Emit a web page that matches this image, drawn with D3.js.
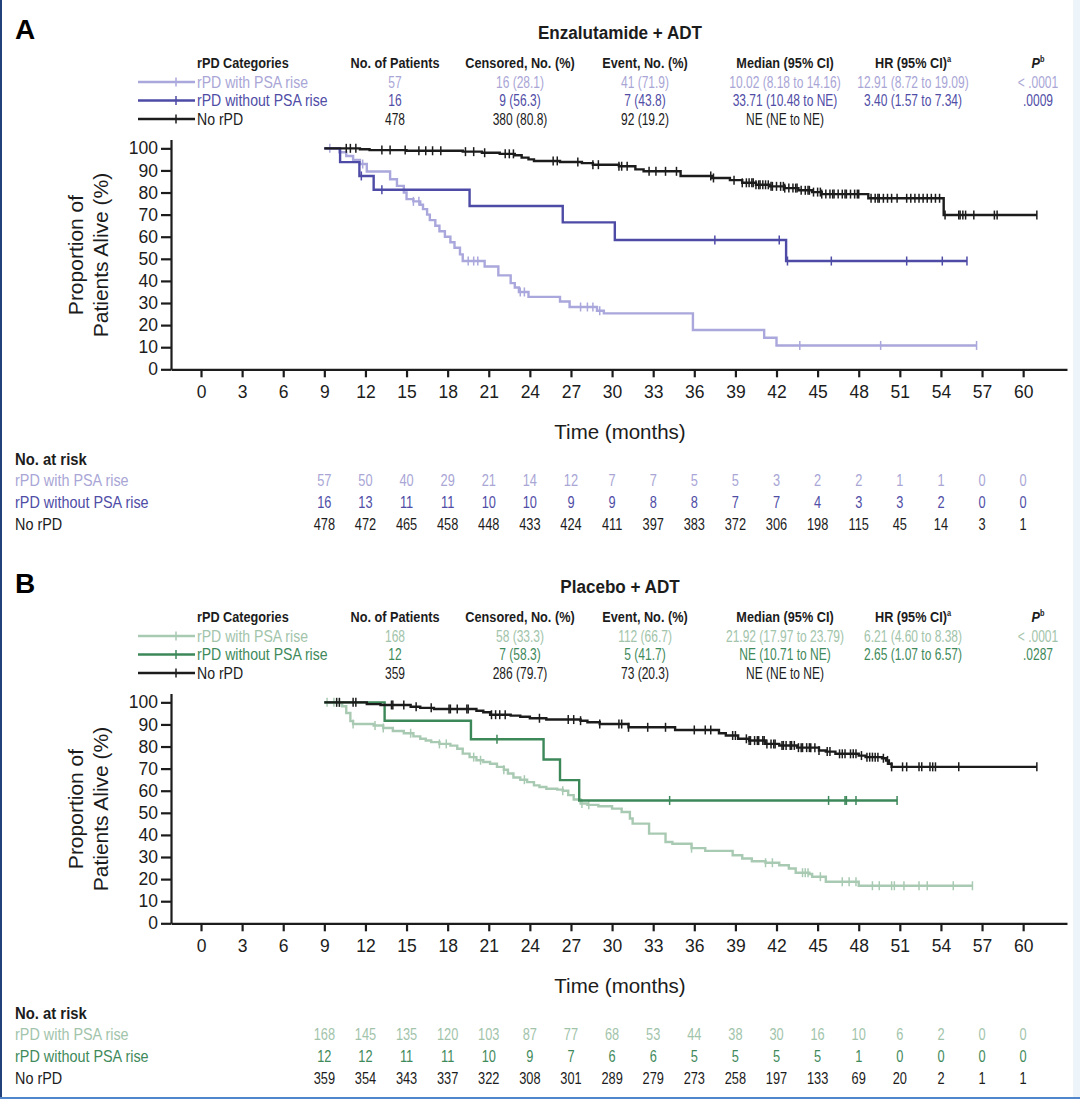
<!DOCTYPE html>
<html>
<head>
<meta charset="utf-8">
<script src="https://cdn.jsdelivr.net/npm/d3@7"></script>
<style>
body { margin: 0; background: #fff; }
svg { display: block; }
</style>
</head>
<body>
<svg id="fig" width="1080" height="1101"></svg>
<script>

// ---- data ----
const catNames = ['rPD with PSA rise', 'rPD without PSA rise', 'No rPD']
const xTicks = [0, 3, 6, 9, 12, 15, 18, 21, 24, 27, 30, 33, 36, 39, 42, 45, 48, 51, 54, 57, 60]
const yTicks = [0, 10, 20, 30, 40, 50, 60, 70, 80, 90, 100]
const riskMonths = [9, 12, 15, 18, 21, 24, 27, 30, 33, 36, 39, 42, 45, 48, 51, 54, 57, 60]
const startMonth = 9

// panel A: Enzalutamide + ADT
const aPatients = ['57', '16', '478']
const aCensored = ['16 (28.1)', '9 (56.3)', '380 (80.8)']
const aEvents = ['41 (71.9)', '7 (43.8)', '92 (19.2)']
const aMedians = ['10.02 (8.18 to 14.16)', '33.71 (10.48 to NE)', 'NE (NE to NE)']
const aHR = ['12.91 (8.72 to 19.09)', '3.40 (1.57 to 7.34)', '']
const aP = ['< .0001', '.0009', '']

const aPsaT = [10.1, 10.6, 11.1, 11.6, 12.1, 13.8, 14.3, 14.8, 15.0, 15.5, 16.0, 16.2, 16.5, 16.7, 17.1, 17.4, 17.8, 18.2, 18.5, 18.9, 19.1, 20.7, 21.7, 22.6, 22.9, 23.2, 23.9, 26.2, 26.9, 28.9, 29.4, 35.9, 41.1, 42.0]
const aPsaS = [98.2, 96.5, 94.7, 92.9, 89.5, 86.0, 83.0, 80.0, 77.0, 76.0, 74.5, 72.5, 70.0, 67.5, 65.0, 62.5, 60.0, 57.5, 55.0, 52.0, 49.0, 46.5, 42.5, 39.0, 37.0, 35.0, 32.8, 30.7, 28.2, 26.5, 25.3, 17.8, 14.3, 10.8]
const aPsaC = [9.4, 11.8, 15.5, 15.9, 19.5, 19.9, 20.2, 23.3, 23.6, 27.7, 28.2, 28.6, 29.1, 43.7, 49.6, 56.6]
const aPsaEnd = 56.6

const aNoT = [10.15, 11.56, 12.6, 19.6, 26.4, 30.2, 42.7]
const aNoS = [93.75, 87.5, 81.25, 73.9, 66.5, 58.5, 49.0]
const aNoC = [11.7, 13.2, 37.5, 42.2, 42.8, 46.0, 51.5, 54.1, 55.9]
const aNoEnd = 55.9

const aNoneT = [11.6, 12.3, 15.0, 19.1, 20.5, 21.8, 22.9, 23.4, 23.9, 24.3, 26.2, 27.8, 28.6, 30.5, 31.7, 32.3, 35.0, 37.3, 38.6, 39.5, 40.5, 41.5, 42.6, 43.6, 44.6, 45.3, 48.7, 54.2]
const aNoneS = [99.6, 99.2, 98.9, 98.5, 98.0, 97.5, 96.9, 95.8, 95.0, 94.3, 93.8, 93.3, 92.6, 91.9, 90.5, 89.6, 87.5, 86.6, 85.6, 84.4, 83.5, 82.8, 82.0, 81.0, 80.2, 79.3, 77.4, 69.8]
const aNoneC = [10.6, 10.9, 11.3, 13.2, 13.8, 14.9, 15.9, 16.4, 16.9, 17.5, 19.3, 19.9, 20.7, 22.2, 22.5, 22.8, 25.7, 26.0, 27.5, 28.6, 29.0, 30.5, 30.7, 31.1, 32.7, 33.2, 33.9, 34.7, 37.2, 37.4, 38.9, 39.5, 39.8, 40.0, 40.2, 40.3, 40.5, 40.7, 40.8, 41.0, 41.2, 41.4, 41.6, 41.7, 42.0, 42.3, 42.5, 42.6, 42.9, 43.2, 43.4, 43.5, 43.8, 44.1, 44.3, 44.4, 44.7, 45.0, 45.2, 45.3, 45.6, 45.9, 46.1, 46.2, 46.5, 46.8, 47.0, 47.1, 47.4, 47.7, 47.9, 48.0, 48.9, 49.2, 49.4, 49.5, 49.8, 50.1, 50.4, 50.8, 51.5, 51.8, 52.1, 52.4, 52.7, 53.0, 53.3, 53.6, 53.9, 54.3, 55.3, 55.4, 55.6, 55.8, 56.4, 57.9, 58.1, 61.0]
const aNoneEnd = 61.0

const aRiskPsa = [57, 50, 40, 29, 21, 14, 12, 7, 7, 5, 5, 3, 2, 2, 1, 1, 0, 0]
const aRiskNoPsa = [16, 13, 11, 11, 10, 10, 9, 9, 8, 8, 7, 7, 4, 3, 3, 2, 0, 0]
const aRiskNone = [478, 472, 465, 458, 448, 433, 424, 411, 397, 383, 372, 306, 198, 115, 45, 14, 3, 1]

// panel B: Placebo + ADT
const bPatients = ['168', '12', '359']
const bCensored = ['58 (33.3)', '7 (58.3)', '286 (79.7)']
const bEvents = ['112 (66.7)', '5 (41.7)', '73 (20.3)']
const bMedians = ['21.92 (17.97 to 23.79)', 'NE (10.71 to NE)', 'NE (NE to NE)']
const bHR = ['6.21 (4.60 to 8.38)', '2.65 (1.07 to 6.57)', '']
const bP = ['< .0001', '.0287', '']

const bPsaT = [10.3, 10.6, 10.9, 11.1, 12.6, 13.3, 14.0, 14.8, 15.5, 16.0, 16.4, 16.8, 17.4, 18.2, 18.7, 19.1, 19.6, 20.1, 20.6, 21.1, 21.6, 22.1, 22.4, 22.8, 23.3, 23.8, 24.3, 24.7, 25.2, 26.0, 26.4, 26.8, 27.2, 27.7, 28.2, 29.0, 30.0, 30.7, 31.3, 31.5, 32.7, 33.9, 34.4, 35.8, 36.8, 38.8, 39.5, 40.2, 41.2, 42.2, 42.9, 43.4, 44.4, 44.6, 45.6, 48.0]
const bPsaS = [98.2, 95.2, 91.5, 90.2, 89.5, 88.4, 87.0, 86.0, 84.6, 83.5, 82.7, 82.0, 81.2, 80.4, 79.0, 76.8, 75.2, 73.8, 73.0, 72.2, 70.8, 69.5, 67.8, 66.0, 65.0, 63.9, 62.4, 61.7, 60.9, 60.5, 60.0, 58.0, 56.0, 54.2, 53.6, 53.0, 51.9, 50.4, 47.4, 45.1, 40.6, 36.8, 36.0, 34.0, 32.8, 30.8, 29.3, 28.1, 27.4, 26.3, 24.8, 22.9, 22.3, 21.1, 18.8, 17.0]
const bPsaC = [9.2, 9.7, 10.1, 11.1, 12.7, 13.3, 15.3, 17.4, 17.9, 19.9, 20.4, 22.1, 23.6, 26.4, 27.8, 28.3, 35.8, 41.2, 41.7, 43.9, 44.1, 44.3, 45.2, 46.8, 47.3, 47.8, 49.0, 49.5, 50.4, 50.6, 51.3, 52.4, 53.0, 54.9, 56.3]
const bPsaEnd = 56.3

const bNoT = [13.4, 19.7, 25.0, 26.2, 27.6]
const bNoS = [91.7, 83.3, 74.1, 64.8, 55.6]
const bNoC = [21.6, 34.2, 45.8, 47.0, 47.1, 47.8, 50.8]
const bNoEnd = 50.8

const bNoneT = [12.1, 13.1, 15.3, 16.0, 17.0, 20.1, 20.6, 21.1, 22.6, 23.3, 24.0, 25.2, 27.7, 28.2, 29.1, 31.2, 34.6, 37.8, 38.3, 39.2, 40.0, 41.2, 42.2, 43.5, 45.1, 45.6, 46.3, 48.0, 48.5, 49.7, 50.0, 50.2, 50.4]
const bNoneS = [99.2, 98.8, 98.0, 97.5, 97.0, 96.2, 95.5, 94.4, 94.0, 93.5, 92.8, 92.2, 91.7, 91.0, 90.2, 88.7, 87.5, 86.0, 85.0, 83.5, 82.7, 81.2, 80.5, 79.5, 78.2, 77.7, 76.7, 75.9, 75.2, 74.7, 73.7, 72.2, 70.8]
const bNoneC = [9.9, 10.1, 11.1, 11.3, 13.9, 14.0, 14.8, 15.7, 16.8, 18.1, 18.2, 18.7, 19.4, 19.5, 21.2, 21.5, 21.8, 22.2, 24.7, 26.8, 27.2, 27.7, 29.1, 30.5, 30.7, 31.2, 32.6, 33.9, 36.0, 36.8, 37.2, 38.8, 39.0, 39.8, 40.0, 40.1, 40.4, 40.6, 40.7, 41.0, 41.1, 41.3, 41.6, 41.8, 41.9, 42.4, 42.5, 42.7, 43.0, 43.1, 43.3, 43.6, 43.8, 43.9, 44.2, 44.4, 44.5, 44.8, 45.1, 45.7, 45.9, 46.6, 46.8, 47.0, 47.4, 47.6, 47.8, 48.2, 48.6, 48.8, 49.0, 49.2, 49.4, 49.8, 50.1, 50.4, 51.2, 51.5, 52.4, 52.6, 53.2, 53.4, 53.6, 55.3, 61.0]
const bNoneEnd = 61.0

const bRiskPsa = [168, 145, 135, 120, 103, 87, 77, 68, 53, 44, 38, 30, 16, 10, 6, 2, 0, 0]
const bRiskNoPsa = [12, 12, 11, 11, 10, 9, 7, 6, 6, 5, 5, 5, 5, 1, 0, 0, 0, 0]
const bRiskNone = [359, 354, 343, 337, 322, 308, 301, 289, 279, 273, 258, 197, 133, 69, 20, 2, 1, 1]

// ---- styling ----
const sans = "'Liberation Sans', Arial, Helvetica, sans-serif"
const black = '#1c1c1c'

const panels = [
  {
    dy: 0, letter: 'A', title: 'Enzalutamide + ADT',
    lineColors: ['#aaa7dc', '#4e4ba7', black],
    textColors: ['#a9a6d6', '#4f4da6', black],
    cols: [aPatients, aCensored, aEvents, aMedians, aHR, aP],
    curves: [
      { T: aPsaT, S: aPsaS, C: aPsaC, end: aPsaEnd },
      { T: aNoT, S: aNoS, C: aNoC, end: aNoEnd },
      { T: aNoneT, S: aNoneS, C: aNoneC, end: aNoneEnd }
    ],
    risk: [aRiskPsa, aRiskNoPsa, aRiskNone]
  },
  {
    dy: 554, letter: 'B', title: 'Placebo + ADT',
    lineColors: ['#a9cab2', '#3d8859', black],
    textColors: ['#a2c4ab', '#3f8a5b', black],
    cols: [bPatients, bCensored, bEvents, bMedians, bHR, bP],
    curves: [
      { T: bPsaT, S: bPsaS, C: bPsaC, end: bPsaEnd },
      { T: bNoT, S: bNoS, C: bNoC, end: bNoEnd },
      { T: bNoneT, S: bNoneS, C: bNoneC, end: bNoneEnd }
    ],
    risk: [bRiskPsa, bRiskNoPsa, bRiskNone]
  }
]

const xScale = d3.scaleLinear([-2.19, 63.2], [171, 1067])
const yScale = d3.scaleLinear([0, 104], [369.3, 139.5])

const colX = [395, 520, 645, 785, 913, 1038]
const rowY = [87.5, 106, 124.5]
const riskY = [485.5, 507.5, 529.5]

const svg = d3.select('#fig')
svg.append('rect').attr('width', 1080).attr('height', 1101).attr('fill', '#fff')

// condensed-looking text: squeeze Liberation Sans horizontally
function ntext(parent, x, y, str, sx, size, anchor, bold) {
  const t = parent.append('g').attr('transform', `translate(${x},${y}) scale(${sx},1)`)
    .append('text').attr('text-anchor', anchor || 'start')
    .style('font-family', sans).style('font-size', size + 'px')
  if (bold) t.style('font-weight', 'bold')
  if (str !== null) t.text(str)
  return t
}

const line = d3.line()
  .x(d => xScale(d[0]))
  .y(d => yScale(d[1]))
  .curve(d3.curveStepAfter)

function survAt(c, t) {
  let s = 100
  c.T.forEach((tt, i) => { if (tt <= t) s = c.S[i] })
  return s
}

panels.forEach(p => {
  const g = svg.append('g').attr('transform', `translate(0,${p.dy})`)

  g.append('text').attr('x', 15).attr('y', 39)
    .style('font-family', sans).style('font-weight', 'bold').style('font-size', '28px')
    .text(p.letter)

  ntext(g, 620, 39, p.title, 0.9, 19, 'middle', true).attr('fill', black)

  // stats table header
  const hdr = g.append('g').attr('fill', black)
  ntext(hdr, 197, 68, 'rPD Categories', 0.82, 15.5, 'start', true)
  const heads = ['No. of Patients', 'Censored, No. (%)', 'Event, No. (%)', 'Median (95% CI)']
  heads.forEach((h, i) => ntext(hdr, colX[i], 68, h, 0.82, 15.5, 'middle', true))
  const hr = ntext(hdr, colX[4], 68, null, 0.82, 15.5, 'middle', true)
  hr.append('tspan').text('HR (95% CI)')
  hr.append('tspan').attr('dy', -6).style('font-size', '9px').text('a')
  const pt = ntext(hdr, colX[5], 68, null, 0.82, 15.5, 'middle', true)
  pt.append('tspan').style('font-style', 'italic').text('P')
  pt.append('tspan').attr('dy', -6).style('font-size', '9px').text('b')

  // stats rows
  catNames.forEach((name, r) => {
    const row = g.append('g').attr('fill', p.textColors[r])
    const yc = rowY[r] - 5.5
    row.append('line').attr('x1', 138).attr('x2', 195).attr('y1', yc).attr('y2', yc)
      .attr('stroke', p.lineColors[r]).attr('stroke-width', 2.5)
    row.append('line').attr('x1', 176).attr('x2', 176).attr('y1', yc - 4.5).attr('y2', yc + 4.5)
      .attr('stroke', p.lineColors[r]).attr('stroke-width', 1.5)
    ntext(row, 197, rowY[r], name, 0.88, 16, 'start')
    p.cols.forEach((col, ci) => ntext(row, colX[ci], rowY[r], col[r], 0.75, 16, 'middle'))
  })

  // axes
  const xAxis = d3.axisBottom(xScale).tickValues(xTicks).tickSize(8).tickPadding(8).tickSizeOuter(0)
  const yAxis = d3.axisLeft(yScale).tickValues(yTicks).tickSize(10).tickPadding(3).tickSizeOuter(0)

  const gx = g.append('g').attr('transform', `translate(0,${yScale(0)})`).call(xAxis)
  const gy = g.append('g').attr('transform', `translate(${xScale.range()[0]},0)`).call(yAxis)
  ;[gx, gy].forEach(a => {
    a.selectAll('path, line').attr('stroke', black).attr('stroke-width', 2.2)
    a.selectAll('text').attr('fill', black).style('font-family', sans).style('font-size', '17.5px')
  })

  g.append('text').attr('x', 620).attr('y', 439).attr('text-anchor', 'middle')
    .style('font-family', sans).style('font-size', '20.5px').attr('fill', black)
    .text('Time (months)')
  const yl = g.append('text').attr('transform', 'translate(83,255) rotate(-90)')
    .attr('text-anchor', 'middle').style('font-family', sans).style('font-size', '21px')
    .attr('fill', black)
  yl.append('tspan').attr('x', 0).attr('y', 0).text('Proportion of')
  yl.append('tspan').attr('x', 0).attr('y', 25).text('Patients Alive (%)')

  // curves
  p.curves.forEach((c, i) => {
    const pts = [[startMonth, 100]]
    c.T.forEach((t, k) => pts.push([t, c.S[k]]))
    pts.push([c.end, c.S[c.S.length - 1]])
    g.append('path').datum(pts).attr('d', line)
      .attr('fill', 'none').attr('stroke', p.lineColors[i]).attr('stroke-width', 2.4)
    g.append('g').selectAll('line').data(c.C).join('line')
      .attr('x1', d => xScale(d)).attr('x2', d => xScale(d))
      .attr('y1', d => yScale(survAt(c, d)) - 4.5).attr('y2', d => yScale(survAt(c, d)) + 4.5)
      .attr('stroke', p.lineColors[i]).attr('stroke-width', 1.5)
  })

  // numbers at risk
  ntext(g, 15, 465, 'No. at risk', 0.9, 16.5, 'start', true).attr('fill', black)
  p.risk.forEach((vals, r) => {
    const row = g.append('g').attr('fill', p.textColors[r])
    ntext(row, 15, riskY[r], catNames[r], 0.9, 16, 'start')
    vals.forEach((v, k) => ntext(row, xScale(riskMonths[k]), riskY[r], String(v), 0.8, 16, 'middle'))
  })
})

// frame edges
svg.append('rect').attr('x', 0).attr('y', 0).attr('width', 2).attr('height', 1099).attr('fill', '#22407a')
svg.append('rect').attr('x', 0).attr('y', 1097).attr('width', 1080).attr('height', 2).attr('fill', '#4f86cc')
svg.append('rect').attr('x', 1073).attr('y', 0).attr('width', 7).attr('height', 1097).attr('fill', '#eef5fa')

</script>
</body>
</html>
